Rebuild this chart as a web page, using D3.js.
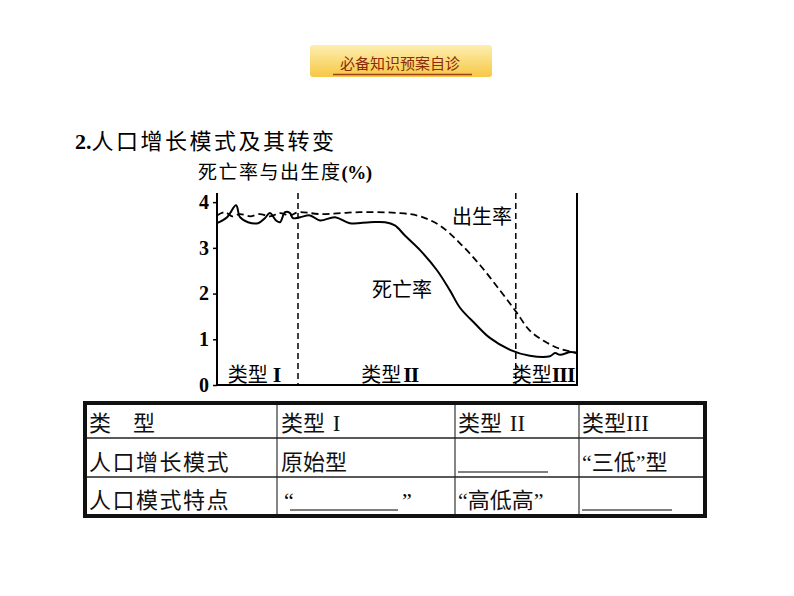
<!DOCTYPE html>
<html>
<head>
<meta charset="utf-8">
<script src="https://cdn.jsdelivr.net/npm/d3@7"></script>
<style>
  body { margin: 0; background: #fff; }
  svg { display: block; }
</style>
</head>
<body>
<svg width="794" height="596"></svg>
<script>
// time axis is just 0..100 across the plot
var deathX    = [0, 2.8, 5.3, 6.4, 8.6, 11.4, 13.3, 14.7, 16.4, 17.5, 18.9, 20.3, 21.1, 23.1, 25.8, 28.6, 32.8, 36.9, 42.5, 46.7, 49.4, 52.2, 56.4, 61.1, 64.7, 67.5, 71.7, 75.8, 81.4, 86.9, 92.5, 93.9, 95.3, 98.1, 100];
var deathRate = [3.54, 3.67, 3.93, 3.67, 3.56, 3.54, 3.65, 3.76, 3.60, 3.56, 3.78, 3.76, 3.65, 3.67, 3.71, 3.60, 3.67, 3.54, 3.56, 3.56, 3.49, 3.27, 2.95, 2.51, 2.07, 1.69, 1.34, 1.03, 0.77, 0.64, 0.63, 0.70, 0.66, 0.72, 0.70];
var birthX    = [0, 2.2, 4.2, 6.4, 9.2, 11.9, 14.7, 17.5, 20.3, 22.5, 28.6, 39.7, 50.8, 56.4, 61.9, 67.5, 73.1, 78.6, 83.1, 86.9, 91.1, 95.3, 100];
var birthRate = [3.71, 3.78, 3.69, 3.74, 3.69, 3.74, 3.69, 3.76, 3.71, 3.78, 3.74, 3.78, 3.76, 3.69, 3.49, 3.10, 2.62, 2.07, 1.60, 1.19, 0.95, 0.79, 0.70];
var stageBounds = [22.5, 83];
var stageNames = ["I", "II", "III"];
var stageMid = [10.3, 48, 90.6];
var yTicks = [0, 1, 2, 3, 4];

var tableHead = ["类\u3000型", "类型", "类型", "类型"];
var tableNums = ["", " I", " II", "III"];
var row2 = ["人口增长模式", "原始型", "", "“三低”型"];
var row3 = ["人口模式特点", "", "“高低高”", ""];

var svg = d3.select("svg");
var cjk = "'Noto Sans CJK SC', sans-serif";
var serif = "'Liberation Serif', 'DejaVu Serif', serif";
var mixed = "'Liberation Serif', 'Noto Sans CJK SC', serif";

// banner
var grad = svg.append("defs").append("linearGradient")
    .attr("id", "gold").attr("x1", 0).attr("y1", 0).attr("x2", 0).attr("y2", 1);
grad.append("stop").attr("offset", "0%").attr("stop-color", "#fdeeb0");
grad.append("stop").attr("offset", "100%").attr("stop-color", "#f6c845");
svg.append("rect")
    .attr("x", 310).attr("y", 45).attr("width", 182).attr("height", 32)
    .attr("rx", 3).attr("fill", "url(#gold)");
svg.append("text")
    .attr("x", 400).attr("y", 69).attr("text-anchor", "middle")
    .attr("font-family", cjk).attr("font-size", 15).attr("fill", "#8a2a0a")
    .text("必备知识预案自诊");
svg.append("line")
    .attr("x1", 333).attr("x2", 472).attr("y1", 74.5).attr("y2", 74.5)
    .attr("stroke", "#a0401a").attr("stroke-width", 1.5);

// headings
var h = svg.append("text").attr("x", 75).attr("y", 149)
    .attr("font-family", cjk).attr("font-size", 22).attr("fill", "#000");
h.append("tspan").attr("font-family", serif).attr("font-weight", "bold").text("2.");
h.append("tspan").attr("letter-spacing", 2.5).text("人口增长模式及其转变");

var yt = svg.append("text").attr("x", 198).attr("y", 179)
    .attr("font-family", cjk).attr("font-size", 19).attr("fill", "#000");
yt.append("tspan").attr("letter-spacing", 1.5).text("死亡率与出生度");
yt.append("tspan").attr("font-family", serif).attr("font-weight", "bold")
    .attr("font-size", 19).attr("letter-spacing", -0.5).text("(%)");

// scales
var x = d3.scaleLinear().domain([0, 100]).range([217, 577]);
var y = d3.scaleLinear().domain([0, 4.2]).range([385, 193]);

var yAxis = svg.append("g")
    .attr("transform", "translate(217,0)")
    .call(d3.axisLeft(y).tickValues(yTicks).tickFormat(d3.format("d"))
        .tickSize(4).tickSizeOuter(0).tickPadding(4));
yAxis.select(".domain").remove();
yAxis.selectAll("line").attr("stroke", "#000").attr("stroke-width", 1.5);
yAxis.selectAll("text")
    .attr("font-family", serif).attr("font-weight", "bold")
    .attr("font-size", 20).attr("fill", "#000");

// frame: left, bottom, right
svg.append("path")
    .attr("d", "M" + x(0) + "," + y(4.2) + "V" + y(0) + "H" + x(100) + "V" + y(4.2))
    .attr("fill", "none").attr("stroke", "#000").attr("stroke-width", 2);

// stage dividers
svg.selectAll(".stage")
    .data(stageBounds)
    .enter().append("line")
      .attr("x1", function(d) { return x(d); })
      .attr("x2", function(d) { return x(d); })
      .attr("y1", y(4.2)).attr("y2", y(0))
      .attr("stroke", "#000").attr("stroke-width", 1.5)
      .attr("stroke-dasharray", "6,4");

var line = d3.line()
    .x(function(d) { return x(d[0]); })
    .y(function(d) { return y(d[1]); })
    .curve(d3.curveCatmullRom.alpha(0.5));

svg.append("path")
    .datum(d3.zip(birthX, birthRate))
    .attr("d", line)
    .attr("fill", "none").attr("stroke", "#000").attr("stroke-width", 1.8)
    .attr("stroke-dasharray", "7,4");

svg.append("path")
    .datum(d3.zip(deathX, deathRate))
    .attr("d", line)
    .attr("fill", "none").attr("stroke", "#000").attr("stroke-width", 2);

// curve labels
svg.append("text").attr("x", 452).attr("y", 224)
    .attr("font-family", cjk).attr("font-size", 20).text("出生率");
svg.append("text").attr("x", 372).attr("y", 297)
    .attr("font-family", cjk).attr("font-size", 20).text("死亡率");

// stage labels
var sl = svg.selectAll(".slabel")
    .data(stageNames)
    .enter().append("text")
      .attr("x", function(d, i) { return x(stageMid[i]); })
      .attr("y", 382)
      .attr("text-anchor", "middle")
      .attr("font-family", cjk).attr("font-size", 20);
sl.append("tspan").text("类型");
sl.append("tspan").attr("font-family", serif).attr("font-weight", "bold")
    .attr("font-size", 22).attr("letter-spacing", -1)
    .attr("dx", function(d, i) { return i == 0 ? 5 : (i == 1 ? 2 : 0); })
    .text(function(d) { return d; });

// table
var colX = [85, 277, 455, 579, 705];
var rowY = [403, 438, 477, 516];
var tb = svg.append("g");
colX.slice(1, 4).forEach(function(cx) {
  tb.append("line").attr("x1", cx).attr("x2", cx).attr("y1", rowY[0]).attr("y2", rowY[3])
    .attr("stroke", "#333").attr("stroke-width", 1.2);
});
rowY.slice(1, 3).forEach(function(ry) {
  tb.append("line").attr("x1", colX[0]).attr("x2", colX[4]).attr("y1", ry).attr("y2", ry)
    .attr("stroke", "#222").attr("stroke-width", 1.5);
});
tb.append("rect")
    .attr("x", colX[0]).attr("y", rowY[0])
    .attr("width", colX[4] - colX[0]).attr("height", rowY[3] - rowY[0])
    .attr("fill", "none").attr("stroke", "#111").attr("stroke-width", 4);

var textX = [89, 281, 458, 582];
var base = [431, 470, 508];
tableHead.forEach(function(t, i) {
  var tx = tb.append("text").attr("x", textX[i]).attr("y", base[0])
      .attr("font-family", cjk).attr("font-size", 22).attr("fill", "#111");
  tx.append("tspan").text(t);
  if (tableNums[i]) {
    tx.append("tspan").attr("font-family", serif).attr("font-size", 23)
      .attr("dx", i == 3 ? 0 : 2).text(tableNums[i]);
  }
});
[row2, row3].forEach(function(row, r) {
  row.forEach(function(t, i) {
    tb.append("text").attr("x", textX[i]).attr("y", base[r + 1])
      .attr("font-family", i == 0 ? cjk : mixed).attr("font-size", 22)
      .attr("letter-spacing", i == 0 ? 1.5 : 0).attr("fill", "#111").text(t);
  });
});
// blanks to fill in
tb.append("text").attr("x", 284).attr("y", base[2])
  .attr("font-family", serif).attr("font-size", 22).text("“");
tb.append("text").attr("x", 402).attr("y", base[2])
  .attr("font-family", serif).attr("font-size", 22).text("”");
var blanks = [[290, 398, 510], [458, 548, 472], [582, 672, 510]];
blanks.forEach(function(b) {
  tb.append("line").attr("x1", b[0]).attr("x2", b[1]).attr("y1", b[2]).attr("y2", b[2])
    .attr("stroke", "#000").attr("stroke-width", 1.2);
});
</script>
</body>
</html>
